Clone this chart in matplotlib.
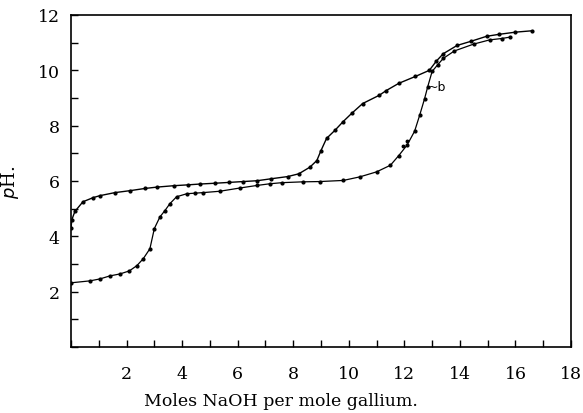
import matplotlib
matplotlib.use("Agg")
import matplotlib.pyplot as plt
from matplotlib.ticker import MultipleLocator

# Curve a (starts near pH 4.3)
moles_a = [0, 0.03, 0.14, 0.43, 0.8, 1.04, 1.58, 2.12, 2.66, 3.1, 3.7, 4.2, 4.64,
           5.2, 5.7, 6.2, 6.7, 7.2, 7.8, 8.2, 8.6, 8.85, 9.0, 9.2, 9.5, 9.8, 10.1,
           10.5, 11.1, 11.35, 11.8, 12.4, 12.9, 13.15, 13.4, 13.9, 14.4, 14.96,
           15.4, 16.0, 16.6]
ph_a = [4.3, 4.6, 4.9, 5.25, 5.4, 5.47, 5.58, 5.65, 5.73, 5.78, 5.83, 5.86, 5.89,
        5.92, 5.95, 5.98, 6.01, 6.08, 6.16, 6.26, 6.5, 6.74, 7.1, 7.54, 7.83, 8.15,
        8.44, 8.8, 9.1, 9.27, 9.53, 9.78, 10.0, 10.33, 10.6, 10.9, 11.05, 11.23,
        11.3, 11.38, 11.43]

# Curve b (starts near pH 2.3)
moles_b = [0, 0.68, 1.04, 1.4, 1.76, 2.1, 2.37, 2.6, 2.84, 3.0, 3.2, 3.38, 3.56,
           3.8, 4.17, 4.46, 4.75, 5.36, 6.1, 6.7, 7.16, 7.6, 8.35, 8.95, 9.8, 10.4,
           11.0, 11.5, 11.8, 12.1, 12.37, 12.55, 12.73, 12.84, 13.0, 13.2, 13.4,
           13.8, 14.5, 15.07, 15.5, 15.8]
ph_b = [2.32, 2.39, 2.46, 2.57, 2.64, 2.75, 2.94, 3.19, 3.55, 4.28, 4.7, 4.93, 5.18,
        5.43, 5.54, 5.56, 5.58, 5.63, 5.75, 5.84, 5.9, 5.94, 5.97, 5.98, 6.02, 6.15,
        6.33, 6.57, 6.92, 7.3, 7.8, 8.37, 8.98, 9.4, 9.96, 10.2, 10.43, 10.7, 10.95,
        11.1, 11.15, 11.2]

# Stray points beside curve b
stray_moles = [11.94, 12.1]
stray_ph = [7.25, 7.46]

x_ticks = [2, 4, 6, 8, 10, 12, 14, 16, 18]
y_ticks = [2, 4, 6, 8, 10, 12]

plt.rcParams['font.family'] = ['DejaVu Serif']

fig = plt.figure(figsize=(5.83, 4.14), dpi=100)
ax = fig.add_axes([71 / 583, 66 / 414, 500 / 583, 332 / 414])

ax.plot(moles_a, ph_a, color='black', lw=1.0, marker='o', ms=2.0)
ax.plot(moles_b, ph_b, color='black', lw=0.9, marker='o', ms=2.0)
ax.plot(stray_moles, stray_ph, ls='none', color='black', marker='o', ms=1.8)

ax.text(12.85, 9.42, "~b", fontsize=9, va='center', ha='left',
        family='DejaVu Sans')

ax.set_xlim(0, 18)
ax.set_ylim(0, 12)
ax.set_xticks(x_ticks)
ax.set_yticks(y_ticks)
ax.xaxis.set_minor_locator(MultipleLocator(1))
ax.yaxis.set_minor_locator(MultipleLocator(1))
ax.tick_params(which='both', direction='in', length=5, width=1, labelsize=12.5)
ax.tick_params(axis='x', pad=13)
ax.tick_params(axis='y', pad=8)
for s in ax.spines.values():
    s.set_linewidth(1.2)

ax.set_xlabel("Moles NaOH per mole gallium.", fontsize=12.5)
ax.xaxis.set_label_coords((281 - 71) / 500, -0.135)
ax.set_ylabel(r"$p$H.", fontsize=13)
ax.yaxis.set_label_coords(-0.1, 0.5)

fig.savefig("out.png", dpi=100)
